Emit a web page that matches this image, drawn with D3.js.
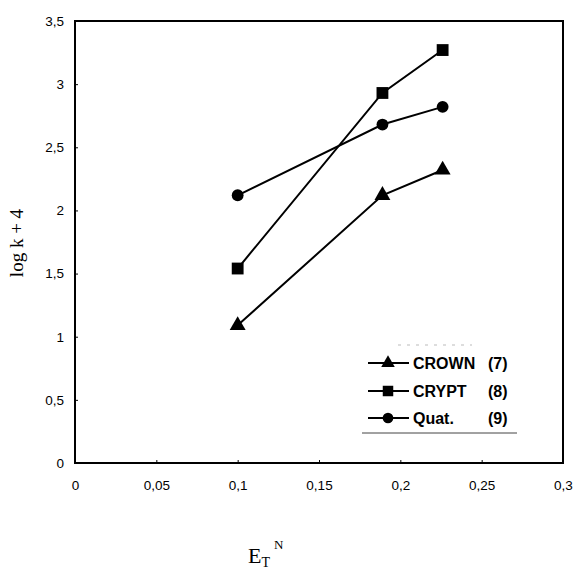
<!DOCTYPE html>
<html><head><meta charset="utf-8">
<script src="https://cdn.jsdelivr.net/npm/d3@7"></script>
<style>body{margin:0;background:#fff}</style>
</head><body>
<script>
const xValues = [0.1, 0.189, 0.226];
const crown = [1.09, 2.12, 2.32];
const crypt = [1.54, 2.93, 3.27];
const quat = [2.12, 2.68, 2.82];
const seriesNames = ["CROWN", "CRYPT", "Quat."];
const seriesNums = ["(7)", "(8)", "(9)"];
const xTicks = [0, 0.05, 0.1, 0.15, 0.2, 0.25, 0.3];
const yTicks = [0, 0.5, 1, 1.5, 2, 2.5, 3, 3.5];

const W = 576, H = 575;
const svg = d3.select("body").append("svg").attr("width", W).attr("height", H);
const L = 75, R = 563, T = 21, B = 463;
const x = d3.scaleLinear().domain([0, 0.3]).range([L, R]);
const y = d3.scaleLinear().domain([0, 3.5]).range([B, T]);
const fmt = v => String(v).replace(".", ",");

// frame
svg.append("rect").attr("x", L).attr("y", T).attr("width", R - L).attr("height", B - T)
  .attr("fill", "none").attr("stroke", "#000").attr("stroke-width", 2);

const ax = svg.append("g").attr("transform", `translate(0,${B})`)
  .call(d3.axisBottom(x).tickValues(xTicks).tickFormat(fmt).tickSize(-3).tickPadding(17));
const ay = svg.append("g").attr("transform", `translate(${L},0)`)
  .call(d3.axisLeft(y).tickValues(yTicks).tickFormat(fmt).tickSize(-3).tickPadding(11));
[ax, ay].forEach(g => {
  g.select(".domain").remove();
  g.selectAll("text").attr("font-family", "Liberation Sans, Arial, sans-serif").attr("font-size", 13.5).attr("fill", "#000");
  g.selectAll("line").attr("stroke", "#000");
});

const series = [crown, crypt, quat];
const shapes = [d3.symbolTriangle, d3.symbolSquare, d3.symbolCircle];
const sizes = [110, 140, 110];
const line = d3.line().x((d, i) => x(xValues[i])).y(d => y(d));
series.forEach((s, k) => {
  svg.append("path").datum(s).attr("d", line).attr("fill", "none").attr("stroke", "#000").attr("stroke-width", 2);
  svg.selectAll(null).data(s).enter().append("path")
    .attr("transform", (d, i) => `translate(${x(xValues[i])},${y(d)})`)
    .attr("d", d3.symbol().type(shapes[k]).size(sizes[k]));
});

// legend
const lg = svg.append("g");
const rows = [363, 391, 418];
const legSizes = [80, 110, 90];
lg.append("line").attr("x1", 398).attr("x2", 472).attr("y1", 345).attr("y2", 345)
  .attr("stroke", "#bbb").attr("stroke-width", 1).attr("stroke-dasharray", "3,6");
seriesNames.forEach((n, k) => {
  const yy = rows[k];
  lg.append("line").attr("x1", 368).attr("x2", 409).attr("y1", yy).attr("y2", yy).attr("stroke", "#000").attr("stroke-width", 2);
  lg.append("path").attr("transform", `translate(388,${yy})`).attr("d", d3.symbol().type(shapes[k]).size(legSizes[k]));
  lg.append("text").attr("x", 413).attr("y", yy + 6).text(n)
    .attr("font-family", "Liberation Sans, Arial, sans-serif").attr("font-weight", "bold").attr("font-size", 16);
  lg.append("text").attr("x", 488).attr("y", yy + 6).text(seriesNums[k])
    .attr("font-family", "Liberation Sans, Arial, sans-serif").attr("font-weight", "bold").attr("font-size", 16);
});
lg.append("line").attr("x1", 362).attr("x2", 517).attr("y1", 433).attr("y2", 433).attr("stroke", "#444").attr("stroke-width", 1);

// axis titles
svg.append("text").attr("transform", "translate(23,243) rotate(-90)").attr("text-anchor", "middle")
  .attr("font-family", "Liberation Serif, Times New Roman, serif").attr("font-size", 19).text("log k + 4");
const xt = svg.append("text").attr("x", 248).attr("y", 563)
  .attr("font-family", "Liberation Serif, Times New Roman, serif").attr("font-size", 22);
xt.append("tspan").text("E");
xt.append("tspan").attr("dy", 4).attr("font-size", 14).text("T");
xt.append("tspan").attr("dy", -18).attr("dx", 4).attr("font-size", 13).text("N");
</script>
</body></html>
